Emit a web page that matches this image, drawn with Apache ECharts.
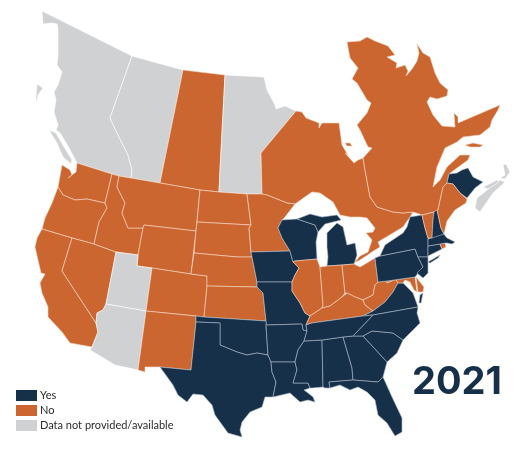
<!DOCTYPE html>
<html lang="en">
<head>
<meta charset="UTF-8">
<title>2021</title>
<script src="https://cdn.jsdelivr.net/npm/echarts@6/dist/echarts.min.js"></script>
<style type="text/css">
	html, body { margin: 0; padding: 0; background: #fff; }
	#main { width: 520px; height: 472px; }
</style>
</head>
<body>
<div id="main"></div>
<script type="text/javascript">
// answers per state / province
var yesRegions = ['New Brunswick', 'Wisconsin', 'Michigan', 'Iowa', 'Missouri', 'Oklahoma', 'Texas', 'Arkansas', 'Louisiana',
	'Mississippi', 'Alabama', 'Georgia', 'Florida', 'South Carolina', 'North Carolina', 'Tennessee', 'Virginia',
	'Pennsylvania', 'New York', 'New Jersey', 'Connecticut', 'Massachusetts', 'New Hampshire'];
var noRegions = ['Saskatchewan', 'Ontario', 'Quebec', 'Washington', 'Oregon', 'California', 'Nevada', 'Idaho', 'Montana',
	'Wyoming', 'Colorado', 'New Mexico', 'North Dakota', 'South Dakota', 'Nebraska', 'Kansas', 'Minnesota', 'Illinois',
	'Indiana', 'Ohio', 'Kentucky', 'West Virginia', 'Maryland', 'Delaware', 'Vermont', 'Maine', 'Rhode Island'];
var noDataRegions = ['British Columbia', 'Alberta', 'Manitoba', 'Nova Scotia', 'Prince Edward Island', 'Utah', 'Arizona'];
var legendLabels = ['Yes', 'No', 'Data not provided/available'];
var yearLabel = '2021';

// hand traced outlines, x and y in map units
var outlines = {
	'British Columbia': [
		[[42,11],[132,56],[110,118],[118,135],[128,155],[132,170],[131,178],[119,176],[112,174],[77,163],[76,162],[68,146],[60,133],[56,130],[58,125],[54,112],[56,100],[54,92],[58,85],[62,72],[57,65],[58,55],[58,28],[57,24],[52,23],[43,24]],
		[[49,130],[56,133],[64,147],[72,160],[71,164],[63,157],[57,143]],
		[[37,84],[43,88],[38,95],[36,105],[36,96]]
	],
	'Alberta': [[[132,56],[183,70],[163,168],[160,183],[131,178],[132,170],[128,155],[118,135],[110,118]]],
	'Saskatchewan': [[[183,70],[225,75],[220,170],[219,192],[200,190],[160,183],[163,168]]],
	'Manitoba': [[[225,75],[264,77],[267,90],[275,105],[276,109],[285,106],[296,111],[261,153],[262,194],[247,194],[219,192],[220,170]]],
	'Ontario': [
		[[296,111],[302,112],[306,118],[319,123],[319,128],[322,123],[339,123],[342,145],[348,155],[345,153],[354,163],[358,160],[363,158],[365,170],[370,197],[377,207],[393,212],[403,213],[413,212],[410,217],[403,227],[393,233],[378,242],[380,247],[375,250],[360,260],[354,263],[360,256],[368,252],[372,240],[366,233],[373,232],[375,228],[367,218],[360,217],[350,217],[340,215],[333,202],[320,193],[312,192],[295,204],[287,203],[267,195],[262,194],[261,153]],
		[[345,143],[350,143],[352,146],[347,146]]
	],
	'Quebec': [
		[[363,158],[372,148],[368,147],[360,130],[357,125],[367,113],[371,103],[367,100],[357,83],[352,79],[358,68],[350,58],[347,42],[360,41],[367,37],[375,41],[388,46],[395,55],[387,57],[397,63],[396,68],[405,65],[408,71],[406,76],[412,69],[417,61],[419,53],[417,44],[423,53],[430,57],[435,73],[440,83],[448,90],[447,96],[437,99],[430,97],[427,102],[433,115],[442,126],[455,127],[454,113],[458,117],[458,123],[500,105],[498,110],[492,120],[490,127],[480,135],[463,137],[457,142],[445,148],[437,167],[433,187],[440,180],[447,167],[460,155],[470,155],[468,160],[457,168],[449,174],[447,183],[443,187],[438,210],[434,212],[422,215],[413,212],[403,213],[393,212],[377,207],[370,197],[365,170]],
		[[465,145],[473,143],[483,145],[480,147],[470,147]]
	],
	'New Brunswick': [[[447,183],[449,174],[457,173],[462,170],[468,168],[473,177],[483,182],[475,188],[467,198],[460,193],[453,184]]],
	'Nova Scotia': [
		[[475,208],[477,198],[500,180],[505,182],[493,193],[480,212]],
		[[500,178],[505,175],[503,165],[506,164],[510,172],[505,179]]
	],
	'Prince Edward Island': [[[483,187],[497,180],[499,182],[488,189]]],
	'Washington': [[[77,163],[112,174],[105,203],[87,199],[75,200],[63,195],[58,187],[62,165],[70,170],[72,175],[68,178],[76,172]]],
	'Oregon': [[[58,187],[63,195],[75,200],[87,199],[105,203],[107,208],[99,222],[94,244],[72,238],[42,229],[45,218],[52,203]]],
	'California': [[[42,229],[72,238],[62,271],[96,323],[98,332],[92,347],[70,343],[62,332],[48,317],[48,307],[42,293],[40,283],[45,274],[41,273],[35,247],[37,238]]],
	'Nevada': [[[72,238],[94,244],[116,252],[106,304],[103,310],[97,313],[96,323],[62,271]]],
	'Idaho': [[[112,174],[119,176],[117,187],[125,203],[122,213],[128,228],[143,228],[138,255],[116,252],[94,244],[99,222],[107,208],[105,203]]],
	'Montana': [[[119,176],[131,178],[160,183],[200,190],[196,231],[144,225],[143,228],[128,228],[122,213],[125,203],[117,187]]],
	'Wyoming': [[[144,225],[196,231],[191,274],[152,268],[137,266],[138,255],[143,228]]],
	'Utah': [[[116,252],[138,255],[137,266],[152,268],[146,311],[106,304]]],
	'Arizona': [[[106,304],[146,311],[138,370],[115,365],[90,350],[92,347],[98,332],[96,323],[97,313],[103,310]]],
	'Colorado': [[[152,268],[191,274],[207,276],[207,286],[204,317],[196,316],[146,311]]],
	'New Mexico': [[[146,311],[196,316],[196,322],[191,370],[160,367],[145,367],[145,372],[138,370]]],
	'North Dakota': [[[200,190],[219,192],[247,194],[251,225],[197,222]]],
	'South Dakota': [[[197,222],[251,225],[249,228],[251,252],[252,257],[237,257],[194,253],[196,231]]],
	'Nebraska': [[[194,253],[237,257],[252,257],[257,282],[257,287],[207,286],[207,276],[191,274]]],
	'Kansas': [[[207,286],[257,287],[263,293],[266,321],[204,317]]],
	'Minnesota': [[[247,194],[262,194],[267,195],[287,203],[295,204],[285,217],[282,220],[278,228],[282,238],[290,251],[251,252],[249,228],[251,225]]],
	'Iowa': [[[251,252],[290,251],[293,262],[299,268],[295,275],[292,282],[257,282],[252,257]]],
	'Missouri': [[[257,282],[292,282],[292,291],[300,303],[305,313],[310,316],[306,325],[307,331],[303,330],[302,324],[266,325],[266,321],[263,293],[257,287]]],
	'Wisconsin': [[[282,220],[297,219],[315,225],[318,232],[316,242],[317,259],[295,261],[293,262],[290,251],[282,238],[278,228]]],
	'Michigan': [
		[[327,233],[337,223],[343,227],[347,245],[355,243],[357,255],[354,264],[342,265],[327,266],[328,257],[327,247]],
		[[297,219],[310,214],[322,217],[337,215],[341,220],[325,224],[318,232],[315,225]]
	],
	'Illinois': [[[295,261],[317,259],[320,267],[323,305],[322,308],[316,312],[310,316],[305,313],[300,303],[292,291],[292,282],[295,275],[299,268],[293,262]]],
	'Indiana': [[[320,267],[327,266],[342,265],[345,293],[342,297],[330,306],[322,308],[323,305]]],
	'Ohio': [[[342,265],[354,264],[360,267],[375,258],[378,282],[375,285],[373,295],[363,300],[355,297],[347,293],[345,293]]],
	'Kentucky': [[[310,316],[316,312],[322,308],[330,306],[342,297],[347,293],[355,297],[363,300],[365,305],[373,311],[363,316],[312,323],[306,325]]],
	'West Virginia': [[[363,300],[373,295],[375,285],[378,282],[387,281],[387,283],[396,279],[398,283],[393,292],[385,302],[373,311],[365,305]]],
	'Virginia': [
		[[363,316],[373,311],[385,302],[393,292],[398,283],[403,283],[413,293],[418,307],[373,315]],
		[[420,295],[423,293],[421,303],[419,303]]
	],
	'Maryland': [[[387,281],[415,277],[417,292],[414,290],[410,282],[405,280],[403,283],[398,283],[396,279],[387,283]]],
	'Delaware': [[[416,277],[424,287],[423,292],[418,292]]],
	'Pennsylvania': [[[375,258],[380,256],[415,249],[418,257],[423,267],[415,277],[387,281],[378,282]]],
	'New York': [
		[[385,245],[403,233],[407,227],[410,217],[422,215],[425,228],[428,238],[428,253],[428,257],[418,257],[415,249],[380,256]],
		[[428,262],[440,255],[438,258],[430,263]]
	],
	'New Jersey': [[[418,257],[428,257],[428,273],[423,278],[417,273],[423,267]]],
	'Connecticut': [[[428,246],[440,244],[442,249],[428,256]]],
	'Rhode Island': [[[440,244],[445,243],[446,247],[442,249]]],
	'Massachusetts': [[[428,239],[443,233],[447,238],[455,242],[452,244],[447,243],[445,243],[440,244],[428,246]]],
	'Vermont': [[[422,215],[434,212],[433,220],[432,238],[428,238],[425,228]]],
	'New Hampshire': [[[434,212],[437,210],[441,228],[444,234],[443,233],[432,238],[433,220]]],
	'Maine': [[[443,187],[447,183],[453,184],[460,193],[467,199],[466,203],[455,210],[447,221],[444,234],[441,228],[437,210],[438,210]]],
	'Oklahoma': [[[196,316],[204,317],[266,321],[266,325],[268,355],[257,353],[247,355],[237,352],[220,345],[220,323],[196,322]]],
	'Texas': [[[196,322],[220,323],[220,345],[237,352],[247,355],[257,353],[268,355],[271,362],[272,372],[276,382],[273,397],[265,397],[262,407],[250,412],[242,422],[240,430],[242,437],[228,433],[215,415],[212,405],[203,395],[193,394],[187,402],[178,395],[173,385],[160,367],[191,370]]],
	'Arkansas': [[[266,325],[302,324],[303,330],[307,331],[304,341],[298,350],[295,362],[271,362],[268,355]]],
	'Louisiana': [[[271,362],[295,362],[297,370],[293,383],[308,383],[310,388],[304,390],[308,393],[313,397],[315,402],[308,400],[300,402],[290,393],[273,397],[276,382],[272,372]]],
	'Mississippi': [[[304,341],[322,340],[323,387],[312,388],[310,388],[308,383],[293,383],[297,370],[295,362],[298,350]]],
	'Alabama': [[[322,340],[343,337],[352,368],[353,380],[329,382],[330,388],[325,388],[323,387]]],
	'Georgia': [[[343,337],[353,336],[363,336],[387,362],[383,377],[378,382],[353,380],[352,368]]],
	'Florida': [[[329,382],[353,380],[378,382],[383,377],[392,397],[402,418],[402,432],[395,436],[387,423],[378,415],[375,400],[367,392],[358,387],[350,390],[340,385],[330,388]]],
	'South Carolina': [[[363,336],[372,331],[383,332],[393,333],[403,340],[397,353],[387,362]]],
	'North Carolina': [[[353,336],[373,315],[418,307],[417,313],[420,323],[403,340],[393,333],[383,332],[372,331],[363,336]]],
	'Tennessee': [[[312,323],[363,316],[373,315],[353,336],[343,337],[322,340],[304,341],[307,331],[306,325]]]
};

function buildGeo() {
	var features = [];
	for (var name in outlines) {
		features.push({
			type: 'Feature',
			properties: { name: name },
			geometry: {
				type: 'MultiPolygon',
				coordinates: outlines[name].map(function (ring) {
					return [ring.map(function (p) { return [p[0], -p[1]]; })];
				})
			}
		});
	}
	return { type: 'FeatureCollection', features: features };
}

function regionData(names, value, lineColor) {
	return names.map(function (n) {
		return { name: n, value: value, itemStyle: { borderColor: lineColor, borderWidth: 0.6 } };
	});
}

echarts.registerMap('northAmerica', buildGeo());

var chart = echarts.init(document.getElementById('main'));
chart.setOption({
	animation: false,
	backgroundColor: '#fff',
	visualMap: {
		type: 'piecewise',
		left: 16,
		top: 390,
		padding: 0,
		itemWidth: 21,
		itemHeight: 11,
		itemGap: 4,
		itemSymbol: 'rect',
		textGap: 3,
		hoverLink: false,
		selectedMode: false,
		textStyle: { fontFamily: 'Lato', fontSize: 11, color: '#2b2b2b' },
		pieces: [
			{ value: 2, label: legendLabels[0], color: '#16304a' },
			{ value: 1, label: legendLabels[1], color: '#cc6631' },
			{ value: 0, label: legendLabels[2], color: '#cfd1d3' }
		]
	},
	title: {
		text: yearLabel,
		left: 412,
		top: 364,
		padding: 0,
		textStyle: { fontFamily: 'Inter', fontWeight: 700, fontSize: 38, color: '#16304a' }
	},
	series: [{
		type: 'map',
		map: 'northAmerica',
		aspectScale: 1,
		boundingCoords: [[0, 0], [520, -472]],
		left: 0,
		top: 0,
		width: 520,
		height: 472,
		silent: true,
		roam: false,
		label: { show: false },
		data: regionData(yesRegions, 2, '#a9b8c6')
			.concat(regionData(noRegions, 1, '#f6d8c2'))
			.concat(regionData(noDataRegions, 0, '#ffffff'))
	}]
});
</script>
</body>
</html>
